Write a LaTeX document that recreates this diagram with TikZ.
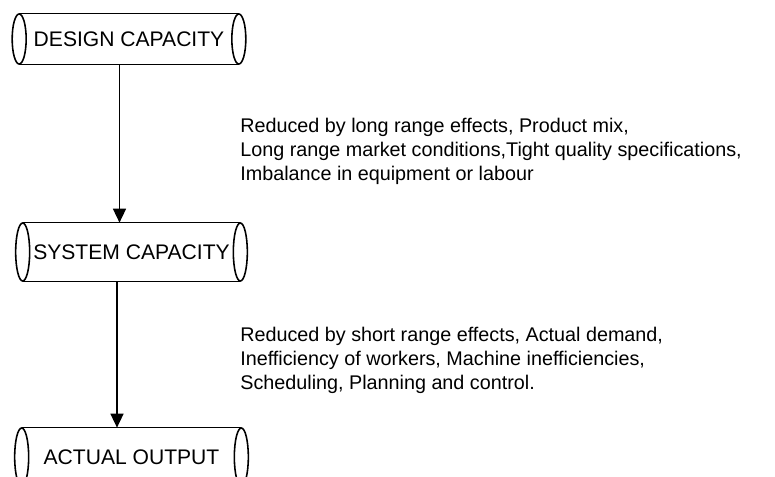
\documentclass[tikz,border=0pt]{standalone}
\usepackage{fontspec}
\setmainfont{Liberation Sans}
\usetikzlibrary{arrows.meta}
\tikzset{
  pipe/.style={inner sep=0pt, font=\fontsize{12}{14}\selectfont},
  frame/.style={line width=0.9pt},
  effects/.style={anchor=north west, inner sep=0pt, align=left,
    font=\fontsize{11.25}{13.6}\selectfont},
  flow/.style={-{Triangle[length=0.28cm, width=0.26cm]}, line width=0.9pt},
}

\begin{document}
\begin{tikzpicture}[x=0.02cm, y=-0.02cm]
\clip (0,0) rectangle (775,477);

%% ---- the three capacities ----------------------------------------------
\node[pipe, minimum width=4.38cm, minimum height=1.0cm] (design) at (129,39) {DESIGN CAPACITY};
\node[pipe, minimum width=4.34cm, minimum height=1.16cm] (system) at (131.5,252) {SYSTEM CAPACITY};
\node[pipe, minimum width=4.38cm, minimum height=1.16cm] (output) at (131.5,457) {ACTUAL OUTPUT};

% body lines, and a full ellipse at each end
\foreach \n/\h in {design/0.5cm, system/0.58cm, output/0.58cm} {
  \draw[frame] (\n.north west) -- (\n.north east) (\n.south west) -- (\n.south east);
  \draw[frame] (\n.west) ellipse [x radius=0.14cm, y radius=\h];
  \draw[frame] (\n.east) ellipse [x radius=0.14cm, y radius=\h];
}

\draw[flow] ([xshift=-0.19cm]design.south) -- ([xshift=-0.19cm]design.south |- system.north);
\draw[flow] ([xshift=-0.29cm]system.south) -- ([xshift=-0.29cm]system.south |- output.north);

%% ---- what reduces them -------------------------------------------------
\node[effects] (longrange) at (240,118) {Reduced by long range effects, Product mix,\\
  Long range market conditions,Tight quality specifications,\\
  Imbalance in equipment or labour};
\node[effects] (shortrange) at (240,327) {Reduced by short range effects, Actual demand,\\
  Inefficiency of workers, Machine inefficiencies,\\
  Scheduling, Planning and control.};

\end{tikzpicture}
\end{document}
